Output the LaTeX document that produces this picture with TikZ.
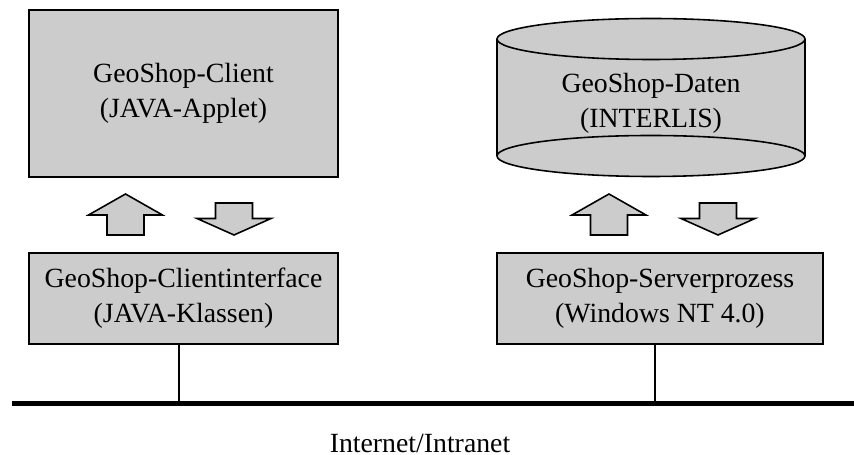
\documentclass[tikz,border=0pt]{standalone}
\usepackage{fontspec}
\setmainfont{Liberation Serif}
\usepackage{xcolor}
\usepackage{tikz}
\usetikzlibrary{shapes}
\definecolor{BoxGray}{HTML}{CCCCCC}

\tikzset{
	box/.style={draw, fill=BoxGray, line width=.45pt, inner sep=0pt, align=center},
	blockarrow/.style={draw, fill=BoxGray, line width=.45pt, line join=miter},
}

\begin{document}
\begin{tikzpicture}[x=.01cm, y=-.01cm, font=\fontsize{7.9}{9.9}\selectfont]
				\useasboundingbox (0,0) rectangle (854,455);

				% client side
				\node[box, minimum width=3.09cm, minimum height=1.67cm] (cli) at (183.5,93.5) {GeoShop-Client\\(JAVA-Applet)};
				\node[box, minimum width=3.09cm, minimum height=.91cm] (ifc) at (183.5,298.5) {GeoShop-Clientinterface\\(JAVA-Klassen)};

				% server side
				\fill[BoxGray] (497,39) rectangle (805,156);
				\draw[line width=.45pt] (497,39) -- (497,156) (805,39) -- (805,156);
				\draw[line width=.45pt, fill=BoxGray] (651,156) ellipse (154 and 20.5);
				\draw[line width=.45pt, fill=BoxGray] (651,39) ellipse (154 and 20.5);
				\node[align=center] (dat) at (651,103) {GeoShop-Daten\\(INTERLIS)};
				\node[box, minimum width=3.26cm, minimum height=.91cm] (srv) at (660,298.5) {GeoShop-Serverprozess\\(Windows NT 4.0)};

				% up/down arrows
				\foreach \up/\down in {125.5/234, 609/718} {
					\draw[blockarrow] (\up-18.5,235) -- (\up-18.5,215) -- (\up-37,215) -- (\up,194) -- (\up+37,215) -- (\up+18.5,215) -- (\up+18.5,235) -- cycle;
					\draw[blockarrow] (\down-18.5,203) -- (\down+18.5,203) -- (\down+18.5,218.5) -- (\down+37,218.5) -- (\down,235) -- (\down-37,218.5) -- (\down-18.5,218.5) -- cycle;
				}

				% network
				\coordinate (busL) at (12,403.5);
				\coordinate (busR) at (854,403.5);
				\draw[line width=1.6pt] (busL) -- (busR);
				\coordinate (tapC) at (179,403.5);
				\coordinate (tapS) at (655,403.5);
				\draw[line width=.45pt] (tapC |- ifc.south) -- (tapC);
				\draw[line width=.45pt] (tapS |- srv.south) -- (tapS);
				\node (net) at (420,443) {Internet/Intranet};
			\end{tikzpicture}
\end{document}
